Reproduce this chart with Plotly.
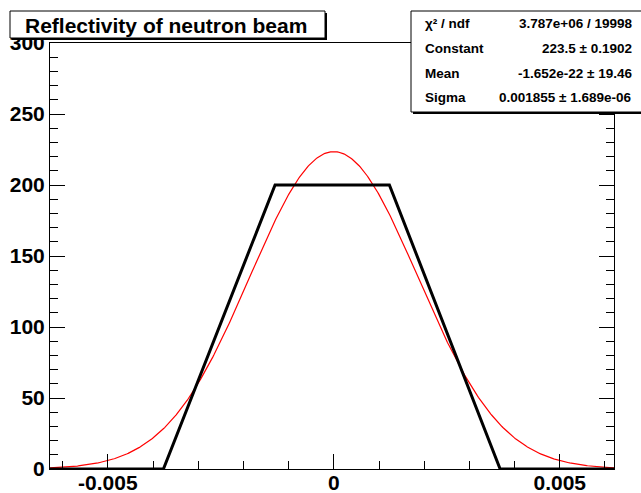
import numpy as np
import plotly.graph_objects as go

# ---------------- data ----------------
hist_x = [-0.0063, -0.00377, -0.00130, 0.00123, 0.00368, 0.0062]
hist_y = [0, 0, 200, 200, 0, 0]

fit_constant = 223.5
fit_mean = -1.652e-22
fit_sigma = 0.001855

stats_labels = ["\u03c7\u00b2 / ndf", "Constant", "Mean", "Sigma"]
stats_values = ["3.787e+06 / 19998", "223.5 \u00b1 0.1902",
                "-1.652e-22 \u00b1 19.46", "0.001855 \u00b1 1.689e-06"]

x_tickvals = [-0.005, 0, 0.005]
x_ticktext = ["-0.005", "0", "0.005"]
y_tickvals = [0, 50, 100, 150, 200, 250, 300]
y_ticktext = ["0", "50", "100", "150", "200", "250", "300"]

title_text = "Reflectivity of neutron beam"

x_range = [-0.00628, 0.00620]
y_range = [0, 300]

# fitted gaussian evaluated from the displayed fit parameters
fit_x = np.linspace(x_range[0], x_range[1], 600)
fit_y = fit_constant * np.exp(-0.5 * ((fit_x - fit_mean) / fit_sigma) ** 2)

# ---------------- layout geometry (pixels) ----------------
WIDTH, HEIGHT = 641, 493
L, R, T, B = 50, 614, 43, 469
PW, PH = R - L, B - T


def px(x):
    return (x - L) / PW


def py(y):
    return (B - y) / PH


FONT = "Liberation Sans, Arial, sans-serif"

fig = go.Figure()
fig.add_trace(go.Scatter(x=fit_x, y=fit_y, mode="lines",
                         line=dict(color="#ff0000", width=1.2),
                         hoverinfo="skip", showlegend=False))
fig.add_trace(go.Scatter(x=hist_x, y=hist_y, mode="lines",
                         line=dict(color="black", width=3),
                         hoverinfo="skip", showlegend=False))

axis_common = dict(showgrid=False, zeroline=False, showline=True,
                   linecolor="black", linewidth=1, ticks="inside",
                   tickcolor="black", tickwidth=1, ticklen=15,
                   automargin=False,
                   tickfont=dict(family=FONT, size=21, color="black", weight="bold"))

fig.update_xaxes(range=x_range, tickmode="array", tickvals=x_tickvals,
                 ticktext=x_ticktext, mirror=True, ticklabelstandoff=-5,
                 minor=dict(dtick=0.001, tick0=0, ticks="inside", ticklen=8,
                            tickcolor="black", tickwidth=1),
                 **axis_common)
fig.update_yaxes(range=y_range, tickmode="array", tickvals=y_tickvals,
                 ticktext=y_ticktext, mirror="allticks",
                 minor=dict(dtick=10, tick0=0, ticks="inside", ticklen=8,
                            tickcolor="black", tickwidth=1),
                 **axis_common)

shapes = []
annotations = []

# title box with shadow
shapes.append(dict(type="rect", xref="paper", yref="paper", layer="above",
                   x0=px(12), x1=px(327), y0=py(40), y1=py(13),
                   fillcolor="black", line=dict(width=0)))
shapes.append(dict(type="rect", xref="paper", yref="paper", layer="above",
                   x0=px(10), x1=px(325), y0=py(38), y1=py(11),
                   fillcolor="white", line=dict(color="black", width=1)))
annotations.append(dict(xref="paper", yref="paper", x=px(23), y=py(25),
                        xanchor="left", yanchor="middle", showarrow=False,
                        text=title_text,
                        font=dict(family=FONT, size=21, color="black", weight="bold")))

# stats box with shadow
shapes.append(dict(type="rect", xref="paper", yref="paper", layer="above",
                   x0=px(413), x1=px(646), y0=py(114), y1=py(13),
                   fillcolor="black", line=dict(width=0)))
shapes.append(dict(type="rect", xref="paper", yref="paper", layer="above",
                   x0=px(411), x1=px(644), y0=py(112), y1=py(11),
                   fillcolor="white", line=dict(color="black", width=1)))
row_y = [23.5, 48.5, 73, 97.5]
for lab, val, ry in zip(stats_labels, stats_values, row_y):
    annotations.append(dict(xref="paper", yref="paper", x=px(423), y=py(ry),
                            xanchor="left", yanchor="middle", showarrow=False,
                            text=lab,
                            font=dict(family=FONT, size=13.5, color="black", weight="bold")))
    annotations.append(dict(xref="paper", yref="paper", x=px(634), y=py(ry),
                            xanchor="right", yanchor="middle", showarrow=False,
                            text=val,
                            font=dict(family=FONT, size=13.5, color="black", weight="bold")))

fig.update_layout(width=WIDTH, height=HEIGHT,
                  margin=dict(l=L, r=WIDTH - R, t=T, b=HEIGHT - B, pad=0),
                  paper_bgcolor="white", plot_bgcolor="white",
                  shapes=shapes, annotations=annotations, showlegend=False)

fig.write_html("out.html")
